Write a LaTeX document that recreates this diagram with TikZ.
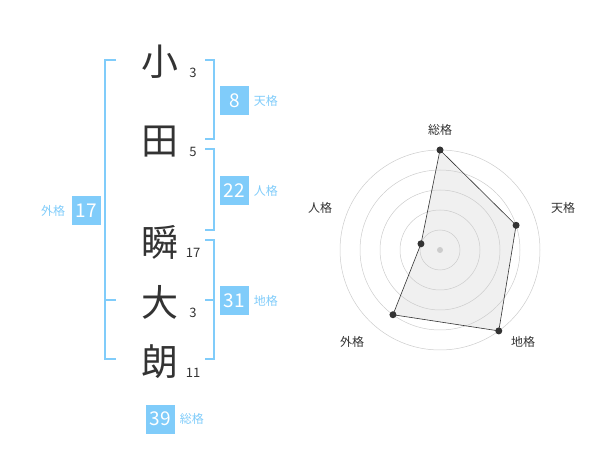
\documentclass[tikz,border=0pt]{standalone}
\usepackage{fontspec}
\setmainfont{Noto Sans CJK JP}
\definecolor{kakucolor}{RGB}{128,204,250}
\definecolor{inkcolor}{RGB}{51,51,51}
\definecolor{ringcolor}{RGB}{204,204,204}
\definecolor{areacolor}{RGB}{240,240,240}
\usetikzlibrary{positioning}
\tikzset{
	moji/.style={text=inkcolor, font=\fontsize{37}{37}\selectfont, inner sep=0pt},
	kakusu/.style={text=inkcolor, font=\fontsize{13}{13}\selectfont, inner sep=0pt},
	kaku/.style={fill=kakucolor, text=white, font=\fontsize{19}{19}\selectfont, minimum width=29pt, minimum height=29pt, inner sep=0pt},
	kakuname/.style={text=kakucolor, font=\fontsize{12}{12}\selectfont, inner sep=0pt},
	bracket/.style={kakucolor, line width=1.6pt},
	radarname/.style={text=inkcolor, font=\fontsize{12}{12}\selectfont, inner sep=0pt},
}

\begin{document}
\begin{tikzpicture}[x=1pt, y=-1pt]
	\useasboundingbox (0,0) rectangle (600,470);
	% name and stroke counts
	\node [moji] (c1) at (160,62) {小};
	\node [moji] (c2) at (160,142) {田};
	\node [moji] (c3) at (160,242) {瞬};
	\node [moji] (c4) at (160,302) {大};
	\node [moji] (c5) at (160,362) {朗};
	\node [kakusu] (n1) at (193,73) {3};
	\node [kakusu] (n2) at (193,152) {5};
	\node [kakusu] (n3) at (193,253) {17};
	\node [kakusu] (n4) at (193,313) {3};
	\node [kakusu] (n5) at (193,373) {11};
	% brackets
	\draw [bracket] (116,60) -| (105,359) -- ++(11,0);
	\draw [bracket] (105,300) -- ++(11,0);
	\draw [bracket] (205,60) -| (214,139) -- ++(-9,0);
	\draw [bracket] (205,149) -| (214,230) -- ++(-9,0);
	\draw [bracket] (205,240) -| (214,359) -- ++(-9,0);
	\draw [bracket] (205,300) -- ++(9,0);
	% kaku boxes
	\node [kaku] (ten) at (234.5,100.5) {8};
	\node [kakuname, right=4.5pt of ten] (tenname) {天格};
	\node [kaku] (jin) at (234.5,190.5) {22};
	\node [kakuname, right=4.5pt of jin] (jinname) {人格};
	\node [kaku] (chi) at (234.5,300.5) {31};
	\node [kakuname, right=4.5pt of chi] (chiname) {地格};
	\node [kaku] (gai) at (86.5,210.5) {17};
	\node [kakuname, left=6.5pt of gai] (gainame) {外格};
	\node [kaku] (sou) at (160.5,419) {39};
	\node [kakuname, right=4.5pt of sou] (souname) {総格};
	% radar
	\begin{scope}[shift={(440,250)}, y=1pt]
		\foreach \ang/\val/\nm in {90/5/sou,18/4/ten,-54/5/chi,-126/4/gai,162/1/jin}
			\coordinate (p-\nm) at (\ang:20*\val);
		\fill [areacolor] (p-sou) -- (p-ten) -- (p-chi) -- (p-gai) -- (p-jin) -- cycle;
		\foreach \r in {20,40,...,100}
			\draw [ringcolor, line width=0.5pt] (0,0) circle (\r);
		\fill [ringcolor] (0,0) circle (3);
		\draw [inkcolor, line width=0.6pt] (p-sou) -- (p-ten) -- (p-chi) -- (p-gai) -- (p-jin) -- cycle;
		\foreach \nm in {sou,ten,chi,gai,jin}
			\fill [inkcolor] (p-\nm) circle (3.5);
		\node [radarname] (r-sou) at (0,120) {総格};
		\node [radarname] (r-ten) at (123,42) {天格};
		\node [radarname] (r-chi) at (83,-92) {地格};
		\node [radarname] (r-gai) at (-88,-92) {外格};
		\node [radarname] (r-jin) at (-120,42) {人格};
	\end{scope}
\end{tikzpicture}
\end{document}
